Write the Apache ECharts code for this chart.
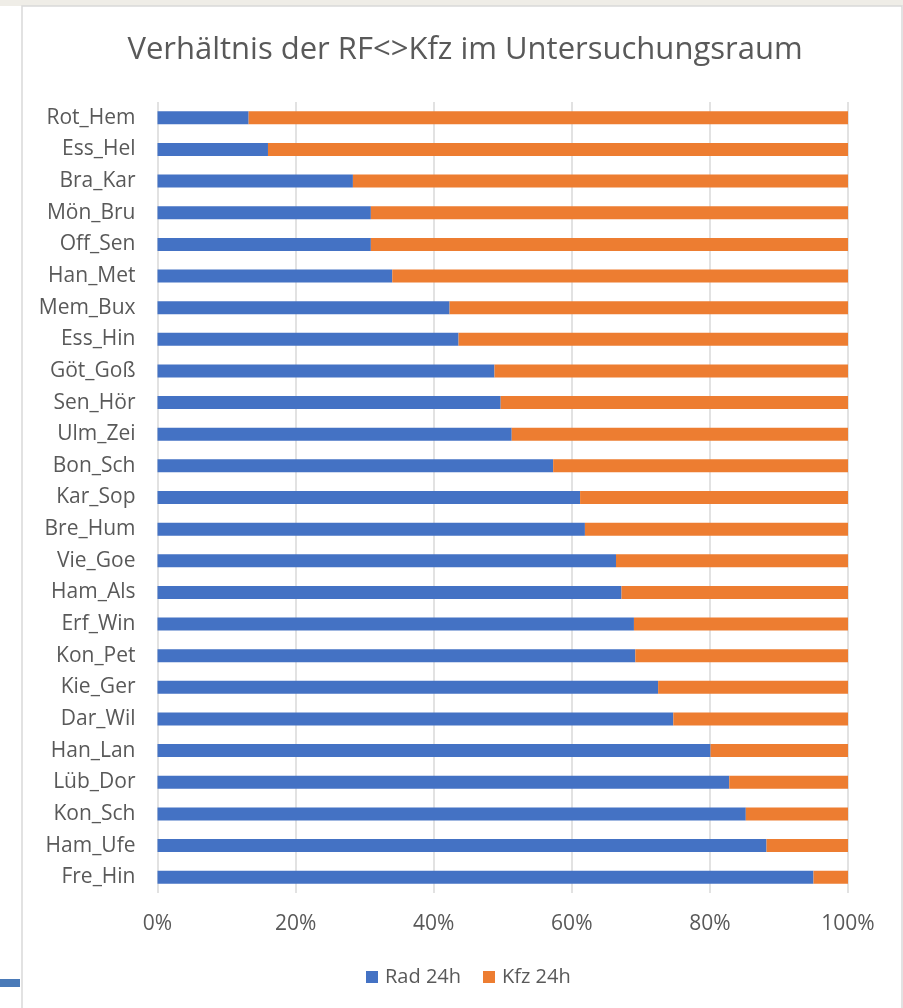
<!DOCTYPE html>
<html>
<head>
<meta charset="utf-8">
<script src="https://cdn.jsdelivr.net/npm/echarts@6/dist/echarts.min.js"></script>
<style>
  html, body { margin: 0; padding: 0; background: #fff; }
  #chart { width: 903px; height: 1008px; }
</style>
</head>
<body>
<div id="chart"></div>
<script>
// Zählstellen (von oben nach unten)
const categories = [
  'Rot_Hem', 'Ess_Hel', 'Bra_Kar', 'Mön_Bru', 'Off_Sen', 'Han_Met', 'Mem_Bux',
  'Ess_Hin', 'Göt_Goß', 'Sen_Hör', 'Ulm_Zei', 'Bon_Sch', 'Kar_Sop', 'Bre_Hum',
  'Vie_Goe', 'Ham_Als', 'Erf_Win', 'Kon_Pet', 'Kie_Ger', 'Dar_Wil', 'Han_Lan',
  'Lüb_Dor', 'Kon_Sch', 'Ham_Ufe', 'Fre_Hin'
]
// Anteil Rad in %
const radShare = [
  13.2, 16.0, 28.3, 30.9, 30.9, 34.0, 42.3,
  43.6, 48.8, 49.7, 51.3, 57.3, 61.2, 61.9,
  66.4, 67.2, 69.0, 69.2, 72.5, 74.7, 80.1,
  82.8, 85.2, 88.2, 95.0
]
// Anteil Kfz = Rest auf 100 %
const kfzShare = [
  86.8, 84.0, 71.7, 69.1, 69.1, 66.0, 57.7,
  56.4, 51.2, 50.3, 48.7, 42.7, 38.8, 38.1,
  33.6, 32.8, 31.0, 30.8, 27.5, 25.3, 19.9,
  17.2, 14.8, 11.8, 5.0
]
const seriesNames = ['Rad 24h', 'Kfz 24h']

const myChart = echarts.init(document.getElementById('chart'))
const textColor = '#595959'
const font = '"Open Sans", "Noto Sans", sans-serif'

const option = {
  backgroundColor: '#fff',
  animation: false,
  title: {
    text: 'Verhältnis der RF<>Kfz im Untersuchungsraum',
    left: 460,
    textAlign: 'center',
    top: 30,
    textStyle: {
      color: textColor,
      fontSize: 31,
      fontWeight: 'normal',
      fontFamily: font
    }
  },
  legend: {
    data: seriesNames,
    top: 962,
    left: 361,
    icon: 'rect',
    itemWidth: 12,
    itemHeight: 12,
    itemGap: 22,
    textStyle: { color: textColor, fontSize: 20, fontFamily: font, padding: [0, 0, 0, 2] }
  },
  grid: {
    left: 157.5,
    right: 55,
    top: 102,
    bottom: 115
  },
  xAxis: {
    type: 'value',
    min: 0,
    max: 100,
    interval: 20,
    axisLine: { show: false },
    axisTick: { show: false },
    axisLabel: {
      formatter: '{value}%',
      color: textColor,
      fontSize: 21,
      fontFamily: font,
      margin: 21
    },
    splitLine: {
      show: true,
      lineStyle: { color: '#d9d9d9', width: 1.5 }
    }
  },
  yAxis: {
    type: 'category',
    data: categories,
    inverse: true,
    axisLine: { show: false },
    axisTick: { show: false },
    axisLabel: {
      color: textColor,
      fontSize: 21,
      fontFamily: font,
      margin: 22
    }
  },
  series: [
    {
      name: seriesNames[0],
      type: 'bar',
      stack: 'total',
      data: radShare,
      barWidth: 13,
      itemStyle: { color: '#4472C4' }
    },
    {
      name: seriesNames[1],
      type: 'bar',
      stack: 'total',
      data: kfzShare,
      barWidth: 13,
      itemStyle: { color: '#ED7D31' }
    }
  ],
  // Rahmen des Screenshots
  graphic: [
    {
      type: 'rect',
      shape: { x: 0, y: 0, width: 903, height: 6 },
      style: { fill: '#efede7' },
      silent: true
    },
    {
      type: 'rect',
      shape: { x: 22, y: 6, width: 880, height: 1010 },
      style: { fill: 'none', stroke: '#d9d9d9', lineWidth: 1.5 },
      silent: true
    },
    {
      type: 'rect',
      shape: { x: 0, y: 979, width: 20, height: 8 },
      style: { fill: '#4a7ab8' },
      silent: true
    }
  ]
}

myChart.setOption(option)
</script>
</body>
</html>
